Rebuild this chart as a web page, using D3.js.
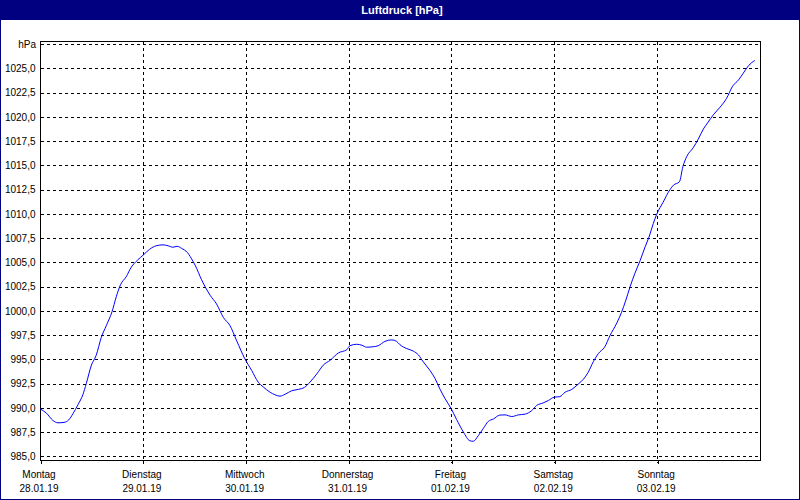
<!DOCTYPE html>
<html>
<head>
<meta charset="utf-8">
<script src="https://cdn.jsdelivr.net/npm/d3@7"></script>
<style>
  html, body { margin: 0; padding: 0; background: #fff; }
  svg { display: block; }
  text { font-family: "Liberation Sans", Arial, sans-serif; }
</style>
</head>
<body>
<script>
// ---- data (hours since Mo 28.01.19 00:00, pressure in hPa) ----
const hours = [0, 1.5, 3.0, 4.2, 5.6, 6.7, 7.7, 8.9, 10.0, 10.8, 12.0, 13.1, 14.3, 15.5, 16.8, 17.8, 18.8, 20.1, 21.3, 22.7,
  24.1, 25.6, 27.1, 28.7, 29.9, 31.0, 32.0, 33.0, 34.4, 35.7, 36.2, 37.7, 39.7, 41.2, 42.8, 44.3, 45.9, 47.8, 49.4, 50.9,
  52.1, 53.7, 54.8, 56.0, 57.2, 58.7, 60.3, 61.7, 63.0, 64.6, 66.1, 67.7, 69.6, 71.6, 72.3, 73.9, 75.1, 76.2, 77.8, 78.9,
  80.5, 82.1, 83.2, 84.0, 85.6, 87.1, 88.3, 89.4, 91.0, 92.2, 93.3, 94.5, 95.9, 97.2, 98.8, 100.3, 101.1, 102.3, 103.4, 104.6,
  105.8, 107.3, 108.5, 110.1, 111.6, 113.2, 114.7, 115.9, 117.4, 118.6, 120.0, 121.3, 122.5, 124.1, 125.6, 126.8, 127.9, 129.1, 130.3, 131.8,
  133.0, 134.6, 135.7, 136.7, 137.7, 138.8, 140.0, 141.2, 142.1, 143.1, 143.9, 145.4, 147.0, 147.8, 149.2, 150.0, 150.9, 152.4, 153.6, 154.8,
  155.9, 157.1, 158.7, 160.2, 161.6, 163.0, 164.1, 165.3, 166.1, 166.8];
const pressure = [989.9, 989.45, 988.7, 988.45, 988.5, 988.75, 989.4, 990.35, 991.35, 992.5, 994.4, 995.4, 997.25, 998.5, 999.9, 1001.45, 1002.7, 1003.5, 1004.5, 1005.2,
  1005.75, 1006.35, 1006.7, 1006.8, 1006.7, 1006.55, 1006.65, 1006.45, 1006.0, 1005.1, 1004.7, 1003.2, 1001.6, 1000.7, 999.3, 998.5, 996.9, 995.05, 993.85, 992.65,
  992.15, 991.6, 991.35, 991.2, 991.4, 991.75, 991.9, 992.1, 992.65, 993.5, 994.4, 994.9, 995.65, 996.0, 996.4, 996.55, 996.45, 996.25, 996.3, 996.4,
  996.85, 997.0, 996.85, 996.5, 996.1, 995.85, 995.45, 994.75, 993.85, 993.0, 991.95, 990.95, 989.95, 988.8, 987.5, 986.6, 986.55, 987.15, 987.85, 988.6,
  988.85, 989.25, 989.27, 989.1, 989.27, 989.35, 989.7, 990.25, 990.5, 990.75, 991.1, 991.15, 991.6, 991.9, 992.45, 992.95, 993.65, 994.75, 995.6, 996.3,
  997.45, 998.75, 999.85, 1001.1, 1002.5, 1003.85, 1005.15, 1006.6, 1007.6, 1009.0, 1009.95, 1011.2, 1012.5, 1012.95, 1013.3, 1014.85, 1015.9, 1016.8, 1017.7, 1018.75,
  1019.45, 1020.2, 1021.0, 1021.9, 1023.15, 1023.8, 1024.5, 1025.25, 1025.6, 1025.8];

const dayNames = ["Montag", "Dienstag", "Mittwoch", "Donnerstag", "Freitag", "Samstag", "Sonntag"];
const dayDates = ["28.01.19", "29.01.19", "30.01.19", "31.01.19", "01.02.19", "02.02.19", "03.02.19"];
const dayTicks = [0, 24, 48, 72, 96, 120, 144];
const yTicks = [985, 987.5, 990, 992.5, 995, 997.5, 1000, 1002.5, 1005, 1007.5, 1010, 1012.5, 1015, 1017.5, 1020, 1022.5, 1025];
const yUnit = "hPa";
const chartTitle = "Luftdruck [hPa]";

// ---- layout ----
const W = 800, H = 500;
const pLeft = 40, pRight = 760, pTop = 41, pBottom = 460;

const svg = d3.select("body").append("svg").attr("width", W).attr("height", H);

svg.append("rect").attr("x", 0.5).attr("y", 0.5).attr("width", W - 1).attr("height", H - 1)
  .attr("fill", "#fff").attr("stroke", "#000080");
svg.append("rect").attr("x", 0).attr("y", 0).attr("width", W).attr("height", 20).attr("fill", "#000080");
svg.append("text").attr("x", 402).attr("y", 13.5).attr("text-anchor", "middle")
  .attr("fill", "#fff").attr("font-weight", "bold").attr("font-size", "11px").text(chartTitle);

const x = d3.scaleLinear().domain([0, 168]).range([pLeft, pRight]);
const y = d3.scaleLinear().domain([985, 1025]).range([456.3, 68.3]);

// horizontal grid (including top line at 1027.5)
const gridY = yTicks.concat([1027.5]);
svg.append("g").selectAll("line").data(gridY).join("line")
  .attr("x1", pLeft + 1).attr("x2", pRight - 1)
  .attr("y1", d => Math.round(y(d)) + 0.5).attr("y2", d => Math.round(y(d)) + 0.5)
  .attr("stroke", "#000").attr("stroke-dasharray", "3,3").attr("shape-rendering", "crispEdges");

// vertical grid
svg.append("g").selectAll("line").data(dayTicks.slice(1)).join("line")
  .attr("x1", d => Math.round(x(d)) + 0.5).attr("x2", d => Math.round(x(d)) + 0.5)
  .attr("y1", pTop + 1).attr("y2", pBottom + 3)
  .attr("stroke", "#000").attr("stroke-dasharray", "3,3").attr("shape-rendering", "crispEdges");

// frame
svg.append("rect").attr("x", pLeft + 0.5).attr("y", pTop + 0.5)
  .attr("width", pRight - pLeft).attr("height", pBottom - pTop)
  .attr("fill", "none").attr("stroke", "#000").attr("shape-rendering", "crispEdges");

// y axis labels
const yAxis = d3.axisLeft(y).tickValues(yTicks).tickSize(0).tickPadding(4)
  .tickFormat(d => d3.format(".1f")(d).replace(".", ","));
const gy = svg.append("g").attr("transform", `translate(${pLeft - 0.5},0)`).call(yAxis);
gy.select(".domain").remove();
gy.selectAll("text").attr("font-size", "10px").attr("font-family", "Liberation Sans, Arial, sans-serif").attr("fill", "#000");
svg.append("text").attr("x", pLeft - 4).attr("y", y(1027.5) + 3.5).attr("text-anchor", "end")
  .attr("font-size", "10px").attr("fill", "#000").text(yUnit);

// x axis
const xAxis = d3.axisBottom(x).tickValues(dayTicks).tickSize(3).tickFormat("");
const gx = svg.append("g").attr("transform", `translate(0.5,${pBottom + 0.5})`).call(xAxis);
gx.select(".domain").remove();
gx.selectAll(".tick line").attr("stroke", "#000").attr("shape-rendering", "crispEdges");
gx.selectAll(".tick").each(function(d, i) {
  const t = d3.select(this).append("text").attr("fill", "#000").attr("font-size", "10px")
    .attr("text-anchor", "middle").attr("font-family", "Liberation Sans, Arial, sans-serif");
  t.append("tspan").attr("x", -2).attr("y", 17).text(dayNames[i]);
  t.append("tspan").attr("x", -2).attr("y", 31).text(dayDates[i]);
});

// line
const data = hours.map((h, i) => ({ h, v: pressure[i] }));
const line = d3.line().x(d => x(d.h)).y(d => y(d.v)).curve(d3.curveMonotoneX);
svg.append("path").datum(data).attr("d", line)
  .attr("fill", "none").attr("stroke", "#0000ff").attr("stroke-width", 1);
</script>
</body>
</html>
